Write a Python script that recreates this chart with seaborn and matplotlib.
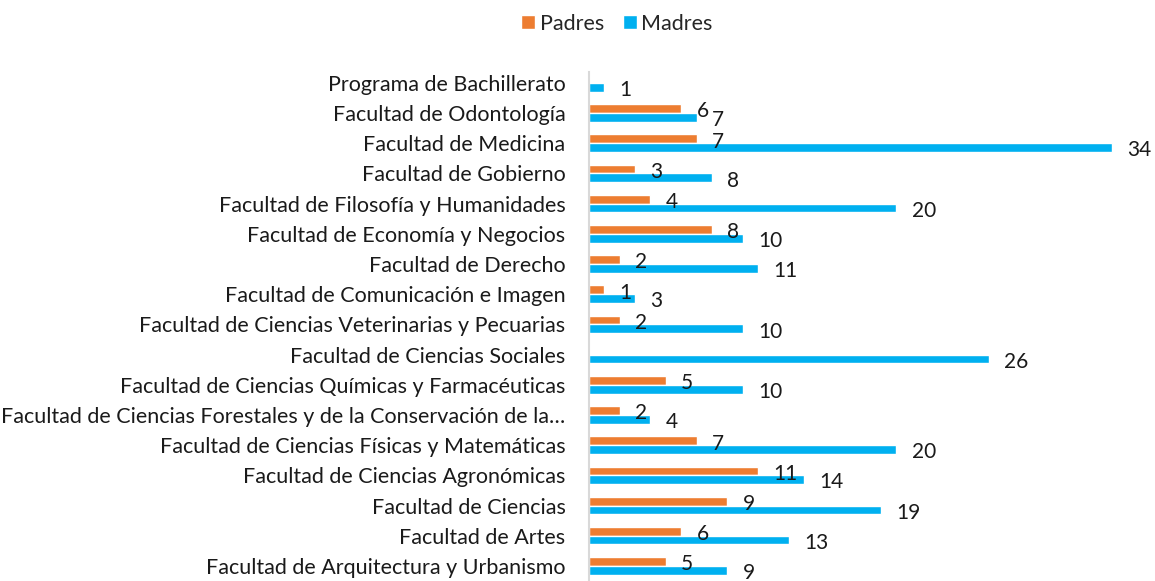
import pandas as pd
import numpy as np
import matplotlib.pyplot as plt
import seaborn as sns

# ── Data ──────────────────────────────────────────────────────────────────────
facultades = [
    'Programa de Bachillerato',
    'Facultad de Odontología',
    'Facultad de Medicina',
    'Facultad de Gobierno',
    'Facultad de Filosofía y Humanidades',
    'Facultad de Economía y Negocios',
    'Facultad de Derecho',
    'Facultad de Comunicación e Imagen',
    'Facultad de Ciencias Veterinarias y Pecuarias',
    'Facultad de Ciencias Sociales',
    'Facultad de Ciencias Químicas y Farmacéuticas',
    'Facultad de Ciencias Forestales y de la Conservación de la…',
    'Facultad de Ciencias Físicas y Matemáticas',
    'Facultad de Ciencias Agronómicas',
    'Facultad de Ciencias',
    'Facultad de Artes',
    'Facultad de Arquitectura y Urbanismo',
]
padres = [np.nan, 6, 7, 3, 4, 8, 2, 1, 2, np.nan, 5, 2, 7, 11, 9, 6, 5]
madres = [1, 7, 34, 8, 20, 10, 11, 3, 10, 26, 10, 4, 20, 14, 19, 13, 9]

df = pd.DataFrame({
    'Facultad': facultades * 2,
    'Valor': padres + madres,
    'Grupo': ['Padres'] * len(facultades) + ['Madres'] * len(facultades),
})

# ── Plot ──────────────────────────────────────────────────────────────────────
sns.set_theme(style='white')
plt.rcParams['font.family'] = ['Lato', 'DejaVu Sans']

fig = plt.figure(figsize=(11.55, 5.81), dpi=100)
ax = fig.add_axes([589 / 1155, 0 / 581, (1150 - 589) / 1155, (581 - 72) / 581])

sns.barplot(data=df, y='Facultad', x='Valor', hue='Grupo', orient='h',
            order=facultades, hue_order=['Padres', 'Madres'],
            palette={'Padres': '#ED7D31', 'Madres': '#00B0F0'},
            width=0.58, errorbar=None, saturation=1, ax=ax)

for cont in ax.containers:
    anns = ax.bar_label(cont, fmt='%d', padding=11, fontsize=15, color='#1a1a1a')
    for a in anns:
        a.xyann = (11, -2)

ax.set_xlim(0, 36.5)
ax.set_ylim(16.5, -0.36)
ax.set_xlabel('')
ax.set_ylabel('')
ax.set_xticks([])
ax.tick_params(axis='y', length=0, pad=17, labelsize=15.5, labelcolor='#1a1a1a')
for s in ['top', 'right', 'bottom']:
    ax.spines[s].set_visible(False)
ax.spines['left'].set_color('#d9d9d9')
ax.spines['left'].set_linewidth(1.5)

ax.legend(loc='upper center', bbox_to_anchor=(617 / 1155, 1.01), bbox_transform=fig.transFigure,
          ncol=2, frameon=False, fontsize=15.5, handlelength=0.65, handleheight=0.65,
          handletextpad=0.2, columnspacing=0.9)

plt.savefig('out.png', dpi=100)
plt.close()
